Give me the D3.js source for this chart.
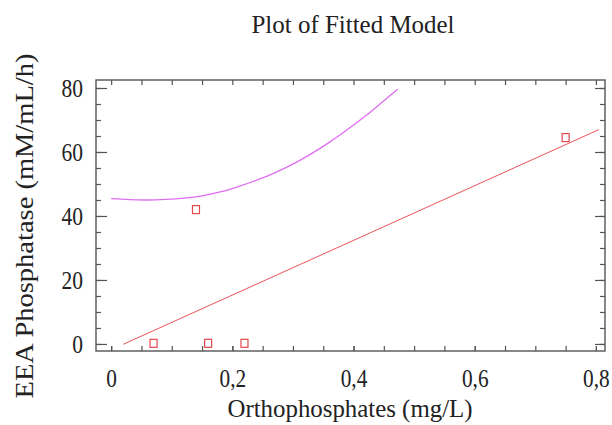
<!DOCTYPE html>
<html>
<head>
<meta charset="utf-8">
<script src="https://cdn.jsdelivr.net/npm/d3@7"></script>
<style>
  body { margin: 0; background: #fff; }
  text { font-family: "Liberation Serif", "Times New Roman", serif; fill: #222; }
</style>
</head>
<body>
<svg id="chart" width="612" height="425"></svg>
<script>
// observed points
const obsX = [0.07, 0.16, 0.22, 0.14, 0.75];
const obsY = [0.2, 0.2, 0.2, 42, 64.5];

// fitted straight line (end points)
const lineX = [0.02, 0.805];
const lineY = [-0.1, 67.0];

// magenta curve, read point by point
const curveX = [0, 0.03, 0.06, 0.09, 0.12, 0.15, 0.18, 0.21, 0.24, 0.27, 0.30, 0.33, 0.36, 0.39, 0.42, 0.45, 0.473];
const curveY = [45.4, 45.1, 45.0, 45.2, 45.6, 46.3, 47.5, 49.2, 51.2, 53.5, 56.2, 59.4, 63.0, 67.0, 71.3, 76.0, 79.6];

const xMajor = [0, 0.2, 0.4, 0.6, 0.8];
const xMinor = d3.range(0, 0.801, 0.05);
const yMajor = [0, 20, 40, 60, 80];
const yMinor = d3.range(0, 81, 5);

const svg = d3.select("#chart");
const mLeft = 96, mRight = 605, mTop = 80, mBottom = 351;

const x = d3.scaleLinear().domain([-0.025, 0.815]).range([mLeft, mRight]);
const y = d3.scaleLinear().domain([-2.2, 82.5]).range([mBottom, mTop]);

const loc = d3.formatLocale({ decimal: ",", thousands: ".", grouping: [3], currency: ["", ""] });
const fmt = loc.format("~g");

const axisColor = "#555";

function styleAxis(g) {
  g.select(".domain").remove();
  g.selectAll("line").attr("stroke", axisColor).attr("stroke-width", 1.2);
}

// title
svg.append("text")
  .attr("x", 353)
  .attr("y", 33)
  .attr("text-anchor", "middle")
  .attr("font-size", "26px")
  .attr("textLength", 203)
  .attr("lengthAdjust", "spacingAndGlyphs")
  .text("Plot of Fitted Model");

// bottom ticks
svg.append("g")
  .attr("transform", `translate(0,${mBottom})`)
  .call(d3.axisBottom(x).tickValues(xMinor).tickSize(-5).tickFormat(""))
  .call(styleAxis);

svg.append("g")
  .attr("transform", `translate(0,${mBottom})`)
  .call(d3.axisBottom(x).tickValues(xMajor).tickSize(-5).tickPadding(10).tickFormat(fmt))
  .call(styleAxis)
  .call(g => g.selectAll("text")
    .attr("font-size", "26px")
    .attr("fill", "#222")
    .attr("font-family", "Liberation Serif, serif")
    .attr("dy", null)
    .attr("y", 36)
    .attr("transform", "scale(0.82,1)"));

// top ticks
svg.append("g")
  .attr("transform", `translate(0,${mTop})`)
  .call(d3.axisTop(x).tickValues(xMinor).tickSize(-5).tickFormat(""))
  .call(styleAxis);

// left ticks
svg.append("g")
  .attr("transform", `translate(${mLeft},0)`)
  .call(d3.axisLeft(y).tickValues(yMinor).tickSize(-5).tickFormat(""))
  .call(styleAxis);

svg.append("g")
  .attr("transform", `translate(${mLeft},0)`)
  .call(d3.axisLeft(y).tickValues(yMajor).tickSize(-11).tickFormat(d => d))
  .call(styleAxis)
  .call(g => g.selectAll("text")
    .attr("font-size", "25px")
    .attr("fill", "#222")
    .attr("font-family", "Liberation Serif, serif")
    .attr("x", 0)
    .attr("dy", "0.34em")
    .attr("transform", "translate(-13,0) scale(0.86,1)"));

// right ticks
svg.append("g")
  .attr("transform", `translate(${mRight},0)`)
  .call(d3.axisRight(y).tickValues(yMinor).tickSize(-5).tickFormat(""))
  .call(styleAxis);

svg.append("g")
  .attr("transform", `translate(${mRight},0)`)
  .call(d3.axisRight(y).tickValues(yMajor).tickSize(-10).tickFormat(""))
  .call(styleAxis);

// frame
svg.append("rect")
  .attr("x", mLeft)
  .attr("y", mTop)
  .attr("width", mRight - mLeft)
  .attr("height", mBottom - mTop)
  .attr("fill", "none")
  .attr("stroke", axisColor)
  .attr("stroke-width", 1.4);

// fitted line
svg.append("path")
  .datum(lineX.map((d, i) => [d, lineY[i]]))
  .attr("d", d3.line().x(d => x(d[0])).y(d => y(d[1])))
  .attr("fill", "none")
  .attr("stroke", "#e8525a")
  .attr("stroke-width", 1);

// magenta curve
svg.append("path")
  .datum(curveX.map((d, i) => [d, curveY[i]]))
  .attr("d", d3.line().x(d => x(d[0])).y(d => y(d[1])).curve(d3.curveCatmullRom))
  .attr("fill", "none")
  .attr("stroke", "#e06ef2")
  .attr("stroke-width", 1.3);

// observations
svg.append("g")
  .selectAll("rect")
  .data(obsX.map((d, i) => [d, obsY[i]]))
  .join("rect")
  .attr("x", d => x(d[0]) - 3.5)
  .attr("y", d => y(d[1]) - 4)
  .attr("width", 7)
  .attr("height", 8)
  .attr("fill", "none")
  .attr("stroke", "#e4484f")
  .attr("stroke-width", 1.2);

// axis titles
svg.append("text")
  .attr("x", 350)
  .attr("y", 417)
  .attr("text-anchor", "middle")
  .attr("font-size", "26px")
  .attr("textLength", 245)
  .attr("lengthAdjust", "spacingAndGlyphs")
  .text("Orthophosphates (mg/L)");

svg.append("text")
  .attr("transform", "translate(33,226) rotate(-90)")
  .attr("text-anchor", "middle")
  .attr("font-size", "25px")
  .attr("textLength", 345)
  .attr("lengthAdjust", "spacingAndGlyphs")
  .text("EEA Phosphatase (mM/mL/h)");
</script>
</body>
</html>
